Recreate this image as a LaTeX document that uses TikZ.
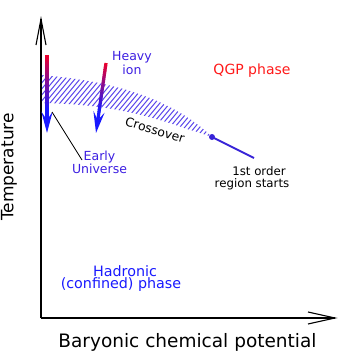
\documentclass[tikz,border=0pt]{standalone}
\usepackage{fontspec}
\setmainfont{DejaVu Sans}
\usetikzlibrary{arrows.meta,calc}
\definecolor{hatchc}{RGB}{90,70,235}
\definecolor{linec}{RGB}{55,35,215}
\definecolor{labc}{RGB}{60,30,225}
\definecolor{hadc}{RGB}{25,25,255}
\definecolor{qgpc}{RGB}{255,25,25}
\definecolor{topc}{RGB}{235,0,45}
\definecolor{botc}{RGB}{25,25,255}
\tikzset{
  axis/.style={line width=1.1pt, black, line join=miter},
  lbl/.style={inner sep=0pt, outer sep=0pt},
  headarrow/.style={botc, line width=3.2pt, -{Stealth[length=21pt,width=11pt,inset=8pt]}},
}
\newcommand{\fs}[2]{\fontsize{#1}{#2}\selectfont}
\begin{document}
\begin{tikzpicture}[x=1pt,y=-1pt]
\useasboundingbox (0,0) rectangle (354,354);
% hatched crossover band
\begin{scope}
\clip (41,75) .. controls (100,80) and (150,92) .. (190,119) .. controls (200,126) and (206,131) .. (212,137)
      .. controls (200,133) and (195,131) .. (190,130) .. controls (150,116) and (110,104) .. (41,103) -- cycle;
\foreach \i in {0,...,44} {
  \draw[hatchc, line width=1pt] (\i*5-20,145) -- ++(60,-72);
}
\end{scope}
% axes
\coordinate (O) at (41,318);
\coordinate (ytop) at (41,19);
\coordinate (xend) at (335,318);
\draw[axis] (O) -- (ytop);
\draw[axis] (O) -- (xend);
\draw[axis] (36,45) -- (ytop) -- (46,45);
\draw[axis] (308,312) -- (xend) -- (308,324);
% first order line
\coordinate (cp) at (212,137);
\coordinate (fo) at (254,158);
\draw[linec, line width=1.8pt] (cp) -- (fo);
\fill[linec] (cp) circle (3pt);
% early universe arrow
\coordinate (eTop) at (47,55);
\coordinate (eTip) at (47,133);
\coordinate (eBase) at ($(eTip)!22pt!(eTop)$);
\foreach \k in {0,...,29} {
  \pgfmathtruncatemacro\pc{100-\k*100/29}
  \draw[topc!\pc!botc, line width=3.2pt] ($(eTop)!\k/30!(eBase)$) -- ($(eTop)!{(\k+1.4)/30}!(eBase)$);
}
\draw[headarrow] (eBase) -- (eTip);
% heavy ion arrow
\coordinate (hTop) at (106,63);
\coordinate (hTip) at (96,133);
\coordinate (hBase) at ($(hTip)!22pt!(hTop)$);
\foreach \k in {0,...,29} {
  \pgfmathtruncatemacro\pc{100-\k*100/29}
  \draw[topc!\pc!botc, line width=3.2pt] ($(hTop)!\k/30!(hBase)$) -- ($(hTop)!{(\k+1.4)/30}!(hBase)$);
}
\draw[headarrow] (hBase) -- (hTip);
% labels
\node[lbl, labc, align=center, font=\fs{12.5}{12}] (heavy) at (132,63) {Heavy\\ion};
\node[lbl, labc, align=center, font=\fs{12.5}{11.5}] (early) at (99.5,162) {Early\\Universe};
\coordinate (eLine) at (52,112);
\coordinate (eLineEnd) at (82,160);
\draw[black, line width=0.8pt] (eLine) -- (eLineEnd);
\node[lbl, qgpc, font=\fs{14}{14}] (qgp) at (252,71) {QGP phase};
\node[lbl, black, rotate=-17, font=\fs{12.3}{12}] (cross) at (155,130) {Crossover};
\node[lbl, black, font=\fs{11.8}{12}] (fo1) at (259,171) {1st order};
\node[lbl, black, font=\fs{11.8}{12}] (fo2) at (252,184) {region starts};
\node[lbl, hadc, font=\fs{14.3}{14}] (had1) at (125,271) {Hadronic};
\node[lbl, hadc, font=\fs{14.3}{14}] (had2) at (121,285) {(confined) phase};
\node[lbl, black, rotate=90, font=\fs{17}{17}] (temp) at (9,167) {Temperature};
\node[lbl, black, font=\fs{18.5}{18.5}] (bar) at (187.5,342) {Baryonic chemical potential};
\end{tikzpicture}
\end{document}
